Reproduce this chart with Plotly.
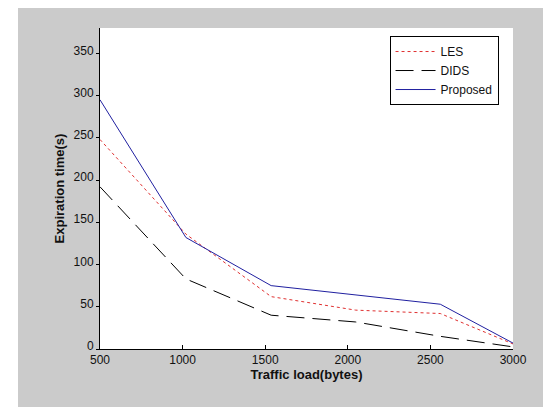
import plotly.graph_objects as go

x_load = [500, 1020, 1536, 2048, 2560, 3000]
les = [248, 136, 62, 46, 42, 6]
dids = [192, 83, 40, 32, 15, 2.5]
proposed = [295, 132, 75, 64, 53, 7]

fig = go.Figure()
fig.add_trace(go.Scatter(x=x_load, y=les, mode="lines", name="LES",
                         line=dict(color="#e03030", width=1, dash="dot")))
fig.add_trace(go.Scatter(x=x_load, y=dids, mode="lines", name="DIDS",
                         line=dict(color="#000000", width=1, dash="18px,8px")))
fig.add_trace(go.Scatter(x=x_load, y=proposed, mode="lines", name="Proposed",
                         line=dict(color="#2020a0", width=1)))

font = dict(family="Liberation Sans, Arial, sans-serif", size=12, color="#111111")

W, H = 551, 407
ml, mr, mt, mb = 92, 46, 20, 66
pw, ph = W - ml - mr, H - mt - mb

def px_x(p):
    return (p - ml) / pw

def px_y(p):
    return (H - mb - p) / ph

fig.update_layout(
    width=W, height=H,
    paper_bgcolor="#ffffff", plot_bgcolor="#ffffff",
    margin=dict(l=ml, r=mr, t=mt, b=mb),
    font=font,
    showlegend=True,
    shapes=[dict(type="rect", xref="paper", yref="paper", layer="below",
                 x0=px_x(10), x1=px_x(W + 5), y0=px_y(404), y1=px_y(-5),
                 fillcolor="#cbcbcb", line=dict(width=0)),
            dict(type="rect", xref="paper", yref="paper", layer="below",
                 x0=0, x1=1, y0=0, y1=1,
                 fillcolor="#ffffff", line=dict(width=0))],
    legend=dict(x=0.965, y=0.975, xanchor="right", yanchor="top",
                bgcolor="#ffffff", bordercolor="#000000", borderwidth=1,
                font=dict(family="Liberation Sans, Arial, sans-serif", size=12),
                tracegroupgap=0, itemwidth=40),
    xaxis=dict(range=[500, 3000], tickvals=[500, 1000, 1500, 2000, 2500, 3000],
               ticks="inside", ticklen=4, tickcolor="#000", showgrid=False,
               showline=True, linecolor="#000", linewidth=1, zeroline=False,
               title=dict(text="<b>Traffic load(bytes)</b>", standoff=2,
                          font=dict(size=13))),
    yaxis=dict(range=[0, 380], tickvals=[0, 50, 100, 150, 200, 250, 300, 350],
               ticks="outside", ticklen=3, tickcolor="#000", showgrid=False,
               showline=True, linecolor="#000", linewidth=1, zeroline=False,
               ticklabelshift=-3,
               title=dict(text="<b>Expiration time(s)</b>", standoff=6,
                          font=dict(size=13))),
)

fig.write_html("out.html")
